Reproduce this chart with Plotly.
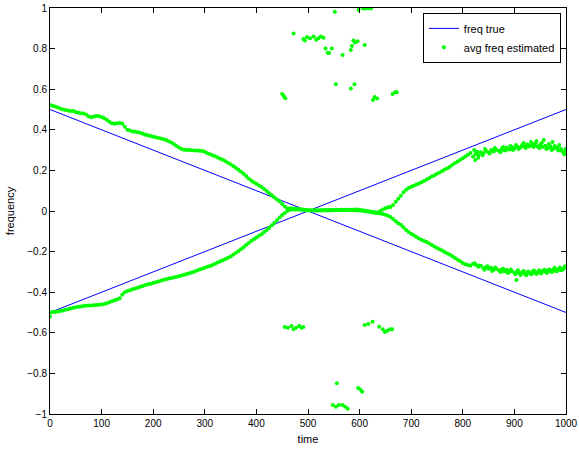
import plotly.graph_objects as go

# ---- true frequency lines ----
true_time = [0, 1000]
true_down = [0.5, -0.5]
true_up = [-0.5, 0.5]

# ---- estimated frequency, sampled every 5 time units (0..1000) ----
est_time = list(range(0, 1001, 5))

est_upper = [
    .522, .518, .515, .510, .505, .500, .498, .495, .493, .492,
    .488, .484, .481, .480, .475, .465, .462, .466, .468, .467,
    .463, .457, .450, .440, .432, .430, .432, .434, .430, .415,
    .400, .396, .392, .390, .388, .386, .380, .376, .373, .370,
    .366, .363, .360, .357, .353, .350, .344, .338, .330, .320,
    .313, .305, .302, .300, .300, .299, .298, .298, .297, .296,
    .292, .285, .280, .275, .270, .264, .258, .252, .245, .238,
    .230, .222, .213, .203, .193, .183, .172, .160, .150, .142,
    .134, .126, .118, .108, .098, .088, .077, .066, .057, .047,
    .035, .022,
    .012, .013, .012, .011, .010, .009, .008, .006, .005, .004,
    .004, .004, .004, .004, .005, .005, .005, .005, .005, .005,
    .005, .006, .006, .006, .006, .006, .007, .007, .006, .004,
    .002, .000, -.002, -.004, -.006, -.007, .000, .008, .014, .018,
    .020, .030, .045, .060, .075, .092, .105, .113, .120, .125,
    .130, .135, .142, .148, .155, .162, .170, .176, .183, .190,
    .197, .204, .211, .218, .228, .236, .244, .252, .260, .268,
    .277, .286, .268, .282, .276, .290, .285, .295, .288, .300,
    .293, .302, .296, .305, .300, .312, .303, .315, .308, .318,
    .312, .325, .318, .328, .320, .330, .322, .318, .326, .315,
    .322, .310, .318, .305, .312, .298, .305, .288, .296,
]

est_lower = [
    -.500, -.498, -.497, -.495, -.492, -.490, -.487, -.484, -.480, -.477,
    -.474, -.472, -.470, -.468, -.467, -.466, -.465, -.464, -.463, -.462,
    -.460, -.458, -.455, -.450, -.445, -.440, -.436, -.430, -.412, -.400,
    -.394, -.390, -.386, -.382, -.378, -.373, -.369, -.365, -.361, -.358,
    -.355, -.351, -.347, -.343, -.339, -.336, -.333, -.330, -.327, -.324,
    -.321, -.318, -.314, -.310, -.307, -.303, -.298, -.293, -.288, -.284,
    -.280, -.275, -.271, -.266, -.260, -.254, -.248, -.242, -.236, -.230,
    -.224, -.216, -.207, -.198, -.189, -.178, -.168, -.158, -.148, -.139,
    -.131, -.122, -.114, -.104, -.094, -.083, -.070, -.058, -.045, -.032,
    -.020, -.010,
    .000, .006, .008, .008, .007, .006, .005, .004, .003, .002,
    .002, .002, .002, .003, .003, .003, .003, .004, .004, .004,
    .004, .004, .004, .005, .005, .004, .004, .003, .002, .001,
    -.001, -.003, -.005, -.008, -.010, -.011, -.012, -.015, -.018, -.024,
    -.030, -.040, -.050, -.060, -.068, -.080, -.094, -.104, -.112, -.120,
    -.128, -.136, -.142, -.148, -.153, -.160, -.168, -.175, -.182, -.188,
    -.195, -.202, -.209, -.216, -.223, -.231, -.240, -.248, -.256, -.262,
    -.266, -.268, -.260, -.265, -.275, -.270, -.282, -.276, -.285, -.280,
    -.290, -.284, -.293, -.288, -.298, -.290, -.300, -.295, -.305, -.298,
    -.308, -.300, -.310, -.302, -.308, -.298, -.306, -.300, -.303, -.296,
    -.300, -.292, -.298, -.290, -.295, -.287, -.292, -.285, -.280,
]

# extra scattered estimates in the noisy tail
noise_up_time = [822, 824, 828, 830, 838, 843, 852, 858, 862, 873, 878, 883,
                 892, 897, 903, 908, 913, 918, 922, 928, 932, 937, 941, 943,
                 948, 953, 957, 962, 967, 972, 974, 978, 983, 987, 992, 997, 999]
noise_up_freq = [.300, .251, .292, .262, .275, .305, .283, .296, .310, .290, .315, .298,
                 .320, .300, .325, .305, .315, .335, .310, .318, .340, .315, .335, .345,
                 .310, .335, .350, .305, .330, .300, .340, .320, .310, .325, .295, .280, .305]

noise_low_time = [823, 832, 842, 848, 857, 863, 873, 878, 887, 893, 902, 907,
                  912, 918, 923, 927, 933, 938, 943, 948, 952, 958, 963, 968,
                  973, 978, 983, 988, 993, 998, 904]
noise_low_freq = [-.258, -.268, -.290, -.272, -.295, -.278, -.300, -.285, -.305, -.288,
                  -.312, -.292, -.315, -.295, -.316, -.298, -.312, -.293, -.310, -.292,
                  -.308, -.290, -.306, -.288, -.300, -.280, -.296, -.278, -.290, -.272,
                  -.340]

# outlying estimates
out_time = [552, 598, 607, 612, 617, 622, 472,
            491, 494, 498, 504, 511, 516, 520, 525, 530,
            534, 538, 541, 546, 567, 583, 585, 588, 591, 596, 610,
            450, 453, 456, 554, 583, 590, 626, 629, 634, 664, 669, 672,
            455, 461, 468, 472, 477, 483, 487, 491,
            610, 617, 625, 638, 645, 649, 654, 659, 663,
            556, 597, 602, 605, 548, 554, 560, 567, 572, 577, 0]
out_freq = [.982, .990, .998, .998, .999, .998, .875,
            .847, .840, .857, .851, .859, .843, .851, .859, .854,
            .800, .780, .778, .800, .768, .793, .813, .840, .830, .836, .818,
            .576, .566, .555, .624, .604, .624, .547, .562, .554, .576, .585, .585,
            -.572, -.575, -.567, -.582, -.575, -.567, -.575, -.572,
            -.562, -.557, -.545, -.570, -.583, -.596, -.590, -.583, -.582,
            -.849, -.872, -.880, -.890, -.956, -.964, -.956, -.956, -.964, -.974, -.520]

x_ticks = [0, 100, 200, 300, 400, 500, 600, 700, 800, 900, 1000]
y_ticks = [-1, -0.8, -0.6, -0.4, -0.2, 0, 0.2, 0.4, 0.6, 0.8, 1]

green_t = est_time + est_time + noise_up_time + noise_low_time + out_time
green_f = est_upper + est_lower + noise_up_freq + noise_low_freq + out_freq

fig = go.Figure()
fig.add_trace(go.Scatter(x=true_time, y=true_down, mode="lines", name="freq true",
                         line=dict(color="#0000ff", width=1)))
fig.add_trace(go.Scatter(x=true_time, y=true_up, mode="lines", name="freq true",
                         showlegend=False, line=dict(color="#0000ff", width=1)))
fig.add_trace(go.Scatter(x=green_t, y=green_f, mode="markers", name="avg freq estimated",
                         marker=dict(color="#00ff00", size=4, line=dict(width=0))))

axis_common = dict(showgrid=False, zeroline=False, showline=True, linecolor="black",
                   linewidth=1, mirror="ticks", ticks="inside", ticklen=5, tickwidth=1,
                   tickcolor="black", tickfont=dict(size=10, color="black"),
                   automargin=False)

fig.update_layout(
    width=579, height=450,
    margin=dict(l=50, r=13, t=8, b=36, autoexpand=False),
    paper_bgcolor="white", plot_bgcolor="white",
    font=dict(family="Liberation Sans, Arial, sans-serif", size=11, color="black"),
    xaxis=dict(range=[0, 1000], tickvals=x_ticks, title=dict(text="time", standoff=7,
               font=dict(size=11)), **axis_common),
    yaxis=dict(range=[-1, 1], tickvals=y_ticks, title=dict(text="frequency", standoff=10,
               font=dict(size=11)), **axis_common),
    legend=dict(x=0.99, y=0.988, xanchor="right", yanchor="top",
                bordercolor="black", borderwidth=1, bgcolor="white",
                font=dict(size=11), tracegroupgap=0),
    showlegend=True,
)

fig.write_html("out.html", config={"displayModeBar": False},
               post_script="document.body.style.margin='0';")
